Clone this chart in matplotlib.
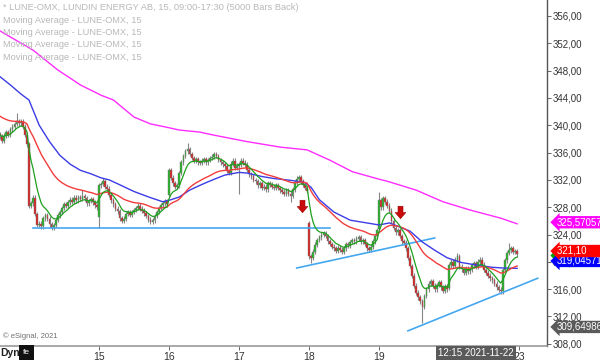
import numpy as np
import matplotlib
matplotlib.use("Agg")
import matplotlib.pyplot as plt
import matplotlib.transforms as mtransforms
from matplotlib.path import Path

plt.rcParams['font.family'] = ['Liberation Sans', 'DejaVu Sans']

# 15 minute closes, LUNE-OMX, 11-22 Nov 2021 (34 bars per session)
closes = [
    # 11th (tail)
    338.4, 337.7, 338.5, 339.0, 338.6, 339.4, 339.8, 340.2, 340.6, 340.3, 340.5, 339.8, 338.6, 337.2,
    # 12th
    328.2, 328.6, 329.4, 327.0, 325.4, 325.6, 325.2, 326.4, 326.8, 326.3, 325.5, 325.0, 325.4, 326.2,
    326.8, 327.3, 327.9, 328.4, 328.2, 328.7, 329.1, 328.8, 329.4, 329.0, 329.5, 329.2, 329.6, 329.3,
    328.6, 328.9, 329.2, 328.7, 328.3, 328.0,
    # 15th
    331.2, 331.4, 331.8, 331.0, 330.7, 329.8, 329.0, 328.4, 327.8, 327.4, 326.4, 326.0, 326.3, 327.0,
    327.3, 326.9, 327.3, 327.6, 327.9, 328.2, 327.8, 327.5, 327.1, 326.7, 326.2, 325.9, 326.1, 326.7,
    327.3, 327.9, 328.3, 328.6, 328.9, 328.5,
    # 16th
    333.4, 332.3, 331.5, 331.0, 331.2, 333.0, 334.6, 335.5, 336.2, 336.5, 335.8, 335.2, 334.8, 335.0,
    334.6, 334.5, 334.8, 335.0, 334.6, 334.9, 335.2, 335.4, 335.8, 335.5, 334.9, 334.6, 334.3, 334.0,
    333.3, 333.0, 334.4, 334.8, 333.8, 334.1,
    # 17th
    334.3, 334.8, 334.5, 334.2, 333.5, 332.8, 332.5, 332.0, 331.8, 331.2, 331.5, 330.8, 331.0, 330.6,
    331.5, 331.3, 331.0, 330.8, 331.2, 330.8, 330.5, 330.3, 330.0, 330.5, 330.0, 329.7, 330.6, 331.6,
    332.2, 332.4, 331.8, 331.3, 330.8, 330.4,
    # 18th
    320.8, 320.6, 321.5, 322.5, 323.2, 323.6, 324.0, 324.2, 323.8, 323.0, 322.6, 322.2, 322.0, 321.6,
    322.1, 321.8, 321.5, 322.0, 322.6, 322.4, 322.9, 323.2, 323.0, 323.4, 323.6, 323.0, 323.2, 322.6,
    322.0, 321.8, 322.2, 323.0, 323.8, 324.6,
    # 19th
    329.0, 328.0, 329.3, 328.8, 328.2, 327.5, 326.0, 325.0, 324.3, 324.6, 323.8, 323.0, 322.8, 322.0,
    320.6, 319.4, 318.0, 316.5, 315.5, 314.8, 314.2, 313.4, 315.0, 316.0, 316.8, 317.2, 316.5, 316.0,
    316.6, 317.0, 316.3, 315.8, 316.4, 316.0,
    # 22nd
    319.5, 320.0, 319.4, 320.3, 320.8, 319.3, 318.9, 318.4, 319.0, 318.6, 318.9, 319.5, 319.8, 319.3,
    320.0, 320.3, 319.6, 318.8, 318.4, 318.0, 317.6, 317.3, 316.8, 316.3, 315.9, 315.7, 318.8, 320.2,
    321.3, 321.7, 322.0, 321.5, 321.6, 321.1,
]
first_open = 338.7
gap_bars = [48, 82, 150, 184, 218]
gap_opens = [326.5, 329.8, 325.7, 324.8, 316.2]

long_high_bars = [8, 40, 50, 82, 91, 184, 222, 247]
long_high_vals = [341.8, 330.5, 332.3, 333.8, 337.4, 330.3, 321.3, 322.8]
long_low_bars = [48, 116, 141, 151, 205]
long_low_vals = [325.0, 330.0, 328.8, 319.8, 311.0]

# long moving averages
blue_bars = [0, 5, 10, 14, 19, 24, 29, 34, 39, 44, 49, 53, 58, 65, 73, 79, 83, 87, 92, 97, 100, 104,
             109, 116, 120, 127, 133, 142, 148, 151, 155, 162, 170, 178, 184, 189, 194, 199, 205, 211,
             217, 224, 232, 239, 244, 251]
blue_vals = [347.1, 345.9, 344.6, 343.7, 340.0, 337.6, 335.6, 334.3, 333.4, 332.9, 332.3, 332.0, 331.3,
             330.3, 329.4, 328.8, 329.1, 329.5, 330.5, 331.2, 331.6, 332.1, 332.7, 333.1, 333.0, 332.5,
             332.2, 331.9, 331.6, 330.9, 329.1, 327.3, 326.1, 325.7, 325.4, 325.7, 325.1, 324.5, 322.9,
             321.7, 320.6, 319.9, 319.5, 319.2, 319.1, 319.05]
magenta_bars = [0, 16, 28, 39, 49, 55, 65, 73, 81, 87, 97, 103, 120, 136, 149, 160, 171, 184, 188, 202,
                215, 228, 243, 251]
magenta_vals = [353.8, 351.0, 348.1, 345.9, 344.4, 343.7, 341.2, 340.2, 339.7, 339.3, 339.0, 338.6, 337.6,
                336.8, 336.4, 334.9, 333.2, 332.1, 331.8, 330.5, 328.8, 327.6, 326.4, 325.57]

support_bars = [16, 160]
support_vals = [325.0, 325.0]
trend1_bars = [144, 211]
trend1_vals = [319.1, 323.5]
trend2_bars = [198, 261]
trend2_vals = [309.9, 317.6]

arrow_bars = [146.5, 194]
arrow_vals = [328.2, 327.3]

day_ticks = [48, 82, 116, 150, 184, 218, 252]
day_labels = ['15', '16', '17', '18', '19', '22', '23']

# price tags on the right axis (bottom first, red on top)
tag_vals = [310.47, 320.93, 320.13, 325.8, 321.59]
tag_texts = ['309,649863', '320,13426', '319,045717', '325,57057', '321,10        ']
tag_colors = ['#5a5a5a', '#00a000', '#0000ff', '#ff00ff', '#ff0000']


def ema(vals, span, seed):
    a = 2.0 / (span + 1)
    out = []
    m = seed
    for v in vals:
        m += a * (v - m)
        out.append(m)
    return np.array(out)


c = np.array(closes)
o = np.concatenate([[first_open], c[:-1]])
o[gap_bars] = gap_opens
hi = np.maximum(o, c) + 0.35
lo = np.minimum(o, c) - 0.35
hi[long_high_bars] = long_high_vals
lo[long_low_bars] = long_low_vals
x = np.arange(len(c))

green = ema(c, 8, 338.6)
red = ema(c, 34, 341.5)

fig = plt.figure(figsize=(6, 3.6), dpi=100)
ax = fig.add_axes([0, 14 / 360, 547 / 600, 346 / 360])

ax.vlines(x, lo, hi, color='#858585', lw=0.8, zorder=1)
up = c >= o
ax.bar(x, np.maximum(np.abs(c - o), 0.1), bottom=np.minimum(o, c), width=0.85,
       color=np.where(up, '#24b424', '#dc2020'), edgecolor='#777777', linewidth=0.3, zorder=2)

ax.plot(support_bars, support_vals, color='#44a8f0', lw=1.2, zorder=3)
ax.plot(trend1_bars, trend1_vals, color='#44a8f0', lw=1.2, zorder=3)
ax.plot(trend2_bars, trend2_vals, color='#44a8f0', lw=1.2, zorder=3)

ax.plot(magenta_bars, magenta_vals, color='#ff2cff', lw=1.0, zorder=4)
ax.plot(blue_bars, blue_vals, color='#3c3ce6', lw=1.0, zorder=4)
ax.plot(x, red, color='#f23c3c', lw=1.0, zorder=4)
ax.plot(x, green, color='#1ea01e', lw=0.9, zorder=4)

arrow = Path([(-0.4, 1), (0.4, 1), (0.4, 0), (0.85, 0), (0, -1), (-0.85, 0), (-0.4, 0), (-0.4, 1)],
             [Path.MOVETO] + [Path.LINETO] * 6 + [Path.CLOSEPOLY])
ax.plot(arrow_bars, arrow_vals, ls='none', marker=arrow, markersize=9, color='#c80a0a',
        markeredgecolor='#a00000', markeredgewidth=0.4, zorder=5)

ax.set_xlim(-0.05, 265.5)
ax.set_ylim(307.68, 358.34)

ax.yaxis.tick_right()
yt = np.arange(308, 357, 4)
ax.set_yticks(yt)
ax.set_yticklabels([('%.2f' % v).replace('.', ',') for v in yt], fontsize=7, color='#333333')
ax.tick_params(axis='y', length=3, width=0.7, color='#666666', pad=1)
ax.set_xticks(day_ticks)
ax.set_xticklabels(day_labels, fontsize=7.5, color='#333333')
ax.tick_params(axis='x', length=3, width=0.7, color='#666666', pad=1)
for s in ['top', 'left']:
    ax.spines[s].set_visible(False)
ax.spines['right'].set_color('#555555')
ax.spines['bottom'].set_color('#999999')
ax.spines['right'].set_linewidth(1.0)
ax.spines['bottom'].set_linewidth(1.2)

trans = mtransforms.blended_transform_factory(ax.transAxes, ax.transData)
for k, (v, t, col) in enumerate(zip(tag_vals, tag_texts, tag_colors)):
    ax.text(1.018, v, t, transform=trans, ha='left', va='center', fontsize=7, color='white',
            bbox=dict(boxstyle='larrow,pad=0.12', fc=col, ec='none'), clip_on=False, zorder=10 + k)

legend_lines = ['* LUNE-OMX, LUNDIN ENERGY AB, 15, 09:00-17:30 (5000 Bars Back)'] + \
    ['Moving Average - LUNE-OMX, 15'] * 4
for i, t in enumerate(legend_lines):
    fig.text(3 / 600, 1 - (8 + 12.3 * i) / 360, t, fontsize=6.7, color='#b8b8b8', va='center')

fig.text(3 / 600, 1 - 336 / 360, '\u00a9 eSignal, 2021', fontsize=5.5, color='#707070', va='center')
fig.text(0, 1 - 353 / 360, 'Dyn', fontsize=7.5, color='#222222', va='center', fontweight='bold')
fig.text(26.5 / 600, 1 - 352.5 / 360, 'fe', fontsize=6, color='white', va='center', ha='center',
         bbox=dict(boxstyle='square,pad=0.45', fc='#111111', ec='none'))
fig.text(476 / 600, 1 - 353 / 360, '12:15 2021-11-22', fontsize=7, color='white', va='center',
         ha='center', bbox=dict(boxstyle='square,pad=0.2', fc='#5a5a5a', ec='none'), zorder=10)

fig.savefig('out.png', dpi=100)
